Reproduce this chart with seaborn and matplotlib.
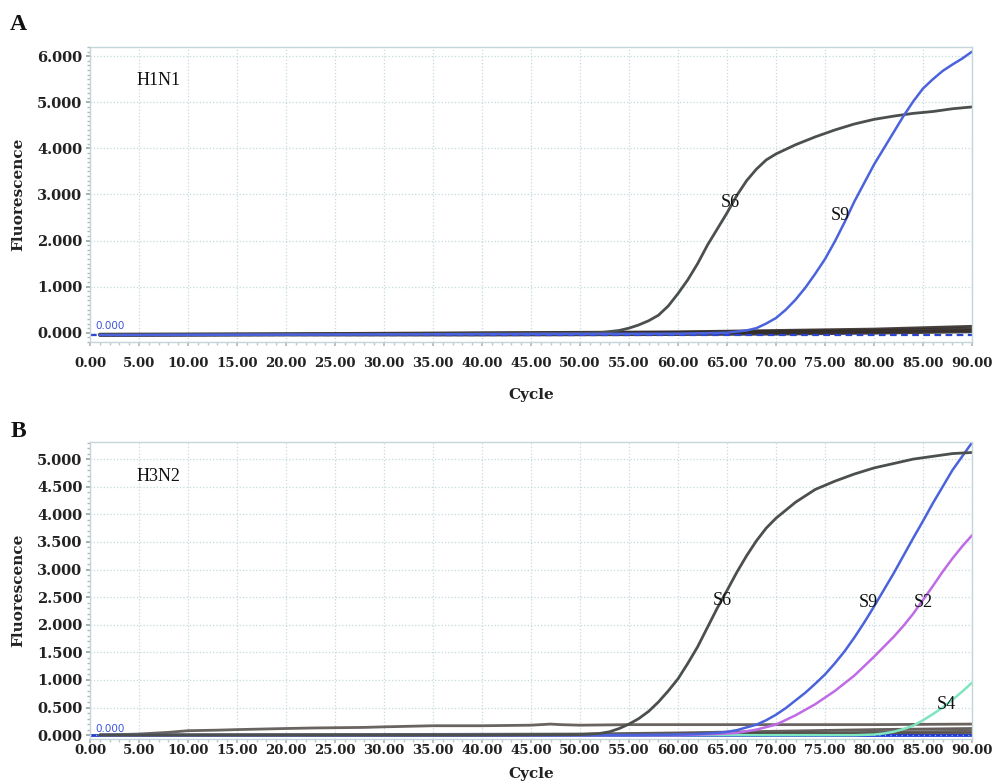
import numpy as np
import pandas as pd
import matplotlib
matplotlib.use("Agg")
from matplotlib import pyplot as plt
from matplotlib.ticker import MultipleLocator, FormatStrFormatter
import seaborn as sns

# ---- data (cycle, fluorescence) ----
# panel A, H1N1
a_s6_x = [1, 10, 20, 30, 40, 50, 52, 54, 55, 56, 57, 58, 59, 60, 61, 62, 63, 64, 65, 66, 67, 68,
          69, 70, 72, 74, 76, 78, 80, 82, 84, 86, 88, 90]
a_s6_y = [-0.04, -0.04, -0.03, -0.03, -0.02, -0.01, 0.0, 0.05, 0.1, 0.17, 0.26, 0.38, 0.58, 0.85,
          1.15, 1.5, 1.9, 2.25, 2.6, 2.98, 3.3, 3.55, 3.75, 3.88, 4.08, 4.25, 4.4, 4.53, 4.63, 4.7,
          4.76, 4.8, 4.86, 4.9]
a_s9_x = [1, 20, 40, 60, 65, 67, 68, 69, 70, 71, 72, 73, 74, 75, 76, 77, 78, 79, 80, 81, 82, 83,
          84, 85, 86, 87, 88, 89, 90]
a_s9_y = [-0.05, -0.04, -0.03, -0.02, 0.0, 0.05, 0.1, 0.2, 0.32, 0.5, 0.72, 0.98, 1.28, 1.6, 1.98,
          2.4, 2.85, 3.25, 3.65, 4.0, 4.35, 4.7, 5.02, 5.3, 5.5, 5.68, 5.82, 5.95, 6.1]
a_base_x = [1, 20, 40, 60, 70, 80, 90]
a_base = [
    [-0.03, -0.02, 0.0, 0.02, 0.05, 0.08, 0.14],
    [-0.04, -0.03, -0.01, 0.01, 0.03, 0.05, 0.09],
    [-0.05, -0.04, -0.03, -0.01, 0.0, 0.02, 0.05],
    [-0.06, -0.05, -0.05, -0.04, -0.03, -0.01, 0.02],
]

# panel B, H3N2
b_s6_x = [1, 40, 50, 52, 53, 54, 55, 56, 57, 58, 59, 60, 61, 62, 63, 64, 65, 66, 67, 68, 69, 70,
          72, 74, 76, 78, 80, 82, 84, 86, 88, 90]
b_s6_y = [0.0, 0.0, 0.01, 0.03, 0.06, 0.12, 0.2, 0.3, 0.43, 0.6, 0.8, 1.02, 1.3, 1.6, 1.95, 2.3,
          2.62, 2.95, 3.25, 3.52, 3.75, 3.93, 4.22, 4.45, 4.6, 4.73, 4.84, 4.92, 5.0, 5.05, 5.1, 5.12]
b_s9_x = [1, 55, 60, 62, 64, 65, 66, 67, 68, 69, 70, 71, 72, 73, 74, 75, 76, 77, 78, 79, 80, 81,
          82, 83, 84, 85, 86, 87, 88, 89, 90]
b_s9_y = [0.0, 0.0, 0.01, 0.02, 0.04, 0.06, 0.09, 0.14, 0.19, 0.27, 0.37, 0.49, 0.63, 0.77, 0.93,
          1.1, 1.3, 1.52, 1.77, 2.04, 2.33, 2.63, 2.93, 3.25, 3.57, 3.88, 4.2, 4.5, 4.8, 5.05, 5.3]
b_s2_x = [1, 60, 64, 66, 68, 70, 72, 74, 76, 78, 80, 82, 83, 84, 85, 86, 87, 88, 89, 90]
b_s2_y = [0.0, 0.0, 0.02, 0.04, 0.1, 0.19, 0.36, 0.56, 0.8, 1.08, 1.42, 1.78, 1.98, 2.2, 2.45,
          2.7, 2.96, 3.2, 3.42, 3.62]
b_s4_x = [1, 78, 80, 81, 82, 83, 84, 85, 86, 87, 88, 89, 90]
b_s4_y = [0.0, 0.0, 0.01, 0.03, 0.06, 0.11, 0.17, 0.27, 0.38, 0.5, 0.64, 0.79, 0.95]
b_grey_x = [1, 5, 8, 10, 13, 15, 20, 23, 28, 30, 35, 40, 45, 47, 48, 50, 55, 60, 70, 80, 90]
b_grey_y = [0.0, 0.02, 0.05, 0.08, 0.09, 0.1, 0.12, 0.13, 0.14, 0.15, 0.17, 0.17, 0.18, 0.2, 0.19,
            0.18, 0.19, 0.19, 0.19, 0.19, 0.2]
b_base_x = [1, 50, 60, 70, 80, 90]
b_base = [
    [0.0, 0.02, 0.04, 0.07, 0.1, 0.12],
    [0.0, 0.01, 0.02, 0.03, 0.05, 0.07],
    [0.0, 0.0, 0.01, 0.02, 0.02, 0.03],
]
threshold = 0.0

dark = "#4b504d"
blue = "#4a63dc"
purple = "#bf6be6"
aqua = "#7de6bf"
base_col = "#332c29"

sns.set_theme(style="white")
plt.rcParams['font.family'] = ['DejaVu Serif']

fig = plt.figure(figsize=(9.93, 7.82), dpi=100)
axA = fig.add_axes([0.0906, 0.5627, 0.8883, 0.3772])
axB = fig.add_axes([0.0906, 0.0550, 0.8883, 0.3798])


def style_axes(ax, ylim, ymajor, yminor, xpad, xlab_y):
    ax.set_xlim(0, 90)
    ax.set_ylim(*ylim)
    ax.xaxis.set_major_locator(MultipleLocator(5))
    ax.xaxis.set_minor_locator(MultipleLocator(1))
    ax.yaxis.set_major_locator(MultipleLocator(ymajor))
    ax.yaxis.set_minor_locator(MultipleLocator(yminor))
    ax.xaxis.set_major_formatter(FormatStrFormatter('%.2f'))
    ax.yaxis.set_major_formatter(FormatStrFormatter('%.3f'))
    ax.grid(True, which='major', color='#c6dadd', linestyle=':', linewidth=0.9)
    for s in ax.spines.values():
        s.set_color('#c5d6da')
        s.set_linewidth(1.0)
    ax.tick_params(axis='y', which='major', length=3, color='#9aa5a8', labelsize=10.5, pad=2.5, left=True)
    ax.tick_params(axis='y', which='minor', length=2, color='#b0b8ba', left=True)
    ax.tick_params(axis='x', which='major', length=3, color='#b0b8ba', labelsize=9.5, pad=xpad, bottom=True)
    ax.tick_params(axis='x', which='minor', length=2, color='#c0c8ca', bottom=True)
    for lab in ax.get_xticklabels() + ax.get_yticklabels():
        lab.set_fontweight('bold')
        lab.set_color('#222222')
    ax.set_xlabel('Cycle', fontsize=11, fontweight='bold', color='#222222')
    ax.set_ylabel('Fluorescence', fontsize=11, fontweight='bold', color='#222222')
    ax.xaxis.set_label_coords(0.5, xlab_y)
    ax.yaxis.set_label_coords(-0.0737, 0.5)
    ax.text(0.6, threshold + (ylim[1] - ylim[0]) * 0.005, '0.000', color='#3a55d8', fontsize=7.5,
            va='bottom', ha='left', family='DejaVu Sans')


# ---- panel A ----
for ys in a_base:
    sns.lineplot(x=a_base_x, y=ys, ax=axA, color=base_col, lw=2.0, alpha=0.9)
axA.axhline(-0.05, color='#2b45d0', lw=1.6, ls=(0, (3, 2)))
sns.lineplot(x=a_s6_x, y=a_s6_y, ax=axA, color=dark, lw=2.0)
sns.lineplot(x=a_s9_x, y=a_s9_y, ax=axA, color=blue, lw=1.8)
style_axes(axA, (-0.2, 6.2), 1.0, 0.1, 8, -0.155)
txt = dict(family='Liberation Serif', fontsize=13, color='#111111')
axA.text(0.0533, 0.885, 'H1N1', transform=axA.transAxes, ha='left', va='center', **txt)
axA.text(65.3, 2.83, 'S6', ha='center', va='center', **txt)
axA.text(76.6, 2.55, 'S9', ha='center', va='center', **txt)

# ---- panel B ----
sns.lineplot(x=b_grey_x, y=b_grey_y, ax=axB, color='#6a6460', lw=2.0)
for ys in b_base:
    sns.lineplot(x=b_base_x, y=ys, ax=axB, color='#4a4440', lw=2.0, alpha=0.85)
axB.axhline(threshold, color='#2438d6', lw=2.0)
axB.axhline(threshold, color='#7fd8f0', lw=0.8, ls=(0, (1, 4)))
sns.lineplot(x=b_s4_x, y=b_s4_y, ax=axB, color=aqua, lw=1.8)
sns.lineplot(x=b_s2_x, y=b_s2_y, ax=axB, color=purple, lw=1.8)
sns.lineplot(x=b_s9_x, y=b_s9_y, ax=axB, color=blue, lw=1.8)
sns.lineplot(x=b_s6_x, y=b_s6_y, ax=axB, color=dark, lw=2.0)
style_axes(axB, (-0.07, 5.31), 0.5, 0.1, 0.5, -0.093)
axB.text(0.0533, 0.885, 'H3N2', transform=axB.transAxes, ha='left', va='center', **txt)
axB.text(64.5, 2.43, 'S6', ha='center', va='center', **txt)
axB.text(79.4, 2.4, 'S9', ha='center', va='center', **txt)
axB.text(85.0, 2.4, 'S2', ha='center', va='center', **txt)
axB.text(87.4, 0.55, 'S4', ha='center', va='center', **txt)

# panel letters
fig.text(18 / 993, 1 - 25 / 782, 'A', family='Liberation Serif', fontsize=17, fontweight='bold',
         ha='center', va='center', color='#111111')
fig.text(18 / 993, 1 - 432 / 782, 'B', family='Liberation Serif', fontsize=17, fontweight='bold',
         ha='center', va='center', color='#111111')

fig.savefig('out.png', dpi=100)
